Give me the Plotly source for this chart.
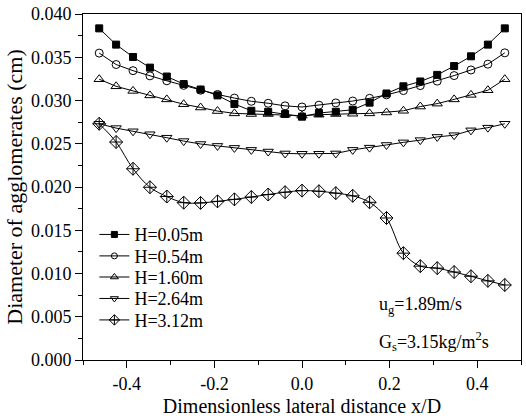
import numpy as np
import plotly.graph_objects as go

x_vals = [round(v, 4) for v in np.linspace(-0.463, 0.463, 25)]

h005 = [0.03834, 0.03646, 0.03503, 0.0338, 0.03277, 0.0319, 0.03127, 0.03059, 0.0296,
        0.02881, 0.0287, 0.02844, 0.02813, 0.02855, 0.0287, 0.02893, 0.02975, 0.03081,
        0.03164, 0.0322, 0.03296, 0.03398, 0.03511, 0.03646, 0.03834]
h054 = [0.03548, 0.03416, 0.03345, 0.03285, 0.03228, 0.03175, 0.03119, 0.0307, 0.03028,
        0.02991, 0.02968, 0.02938, 0.02925, 0.02946, 0.02972, 0.02994, 0.03025, 0.03065,
        0.03115, 0.03172, 0.03224, 0.03288, 0.03353, 0.0342, 0.03551]
h160 = [0.03246, 0.03164, 0.03111, 0.03059, 0.03013, 0.02957, 0.02919, 0.02878, 0.02851,
        0.02844, 0.02844, 0.02836, 0.02825, 0.02836, 0.02844, 0.02847, 0.02851, 0.02862,
        0.02881, 0.0293, 0.02964, 0.03013, 0.03065, 0.03119, 0.03246]
h264 = [0.02731, 0.02681, 0.02644, 0.0261, 0.0257, 0.02531, 0.02497, 0.02475, 0.02452,
        0.02429, 0.0241, 0.02388, 0.02384, 0.02384, 0.02388, 0.02429, 0.02455, 0.02486,
        0.02516, 0.02542, 0.02579, 0.02599, 0.02655, 0.02686, 0.02731]
h312 = [0.02731, 0.0252, 0.02211, 0.01997, 0.0189, 0.01819, 0.01816, 0.01834, 0.01857,
        0.01884, 0.01913, 0.0194, 0.01958, 0.01951, 0.01929, 0.01898, 0.01823, 0.01642,
        0.01235, 0.01085, 0.01062, 0.01017, 0.00968, 0.00915, 0.00867]

series_names = ["H=0.05m", "H=0.54m", "H=1.60m", "H=2.64m", "H=3.12m"]
series_vals = [h005, h054, h160, h264, h312]
symbols = ["square", "circle-open", "triangle-up-open", "triangle-down-open", "diamond-cross-open"]
sizes = [7, 8, 9, 9, 10]
legend_sizes = [6, 6, 7, 7, 8]
shapes = ["linear", "linear", "linear", "linear", "spline"]

y_ticks = [0.0, 0.005, 0.010, 0.015, 0.020, 0.025, 0.030, 0.035, 0.040]
x_ticks = [-0.4, -0.2, 0.0, 0.2, 0.4]

FONT = "Liberation Serif, Times New Roman, serif"

fig = go.Figure()
for name, vals, sym, sz, shp in zip(series_names, series_vals, symbols, sizes, shapes):
    fig.add_trace(go.Scatter(
        x=x_vals, y=vals, name=name, mode="lines+markers", showlegend=False,
        line=dict(color="black", width=1, shape=shp),
        marker=dict(symbol=sym, size=sz, color="black", line=dict(color="black", width=1)),
    ))

legend_ids = ["legend", "legend2", "legend3", "legend4", "legend5"]
legend_rows = [0.362, 0.300, 0.239, 0.177, 0.115]
for name, sym, sz, lid in zip(series_names, symbols, legend_sizes, legend_ids):
    fig.add_trace(go.Scatter(
        x=[None], y=[None], name=name, mode="lines+markers", showlegend=True, legend=lid,
        line=dict(color="black", width=1),
        marker=dict(symbol=sym, size=sz, color="black", line=dict(color="black", width=1)),
    ))

fig.add_annotation(x=0.171, y=0.0063, xref="x", yref="y", xanchor="left", yanchor="middle",
                   text="u<sub>g</sub>=1.89m/s", showarrow=False,
                   font=dict(family=FONT, size=18, color="black"))
fig.add_annotation(x=0.171, y=0.0021, xref="x", yref="y", xanchor="left", yanchor="middle",
                   text="G<sub>s</sub>=3.15kg/m<sup>2</sup>s", showarrow=False,
                   font=dict(family=FONT, size=18, color="black"))

axis_common = dict(showgrid=False, zeroline=False, showline=True, linecolor="black",
                   linewidth=1, mirror=True, ticks="outside", ticklen=7, tickwidth=1,
                   tickcolor="black", tickfont=dict(family=FONT, size=18, color="black"),
                   ticklabeloverflow="allow")

fig.update_xaxes(range=[-0.5, 0.5], tickmode="array", tickvals=x_ticks,
                 ticktext=[f"{v:.1f}" for v in x_ticks],
                 minor=dict(ticks="outside", dtick=0.1, tick0=0, ticklen=4, tickcolor="black"),
                 title=dict(text="Dimensionless lateral distance x/D",
                            font=dict(family=FONT, size=20, color="black"), standoff=6),
                 **axis_common)
fig.update_yaxes(range=[0, 0.0400001], tickmode="array", tickvals=y_ticks,
                 ticktext=[f"{v:.3f}" for v in y_ticks],
                 minor=dict(ticks="outside", dtick=0.0025, tick0=0, ticklen=4, tickcolor="black"),
                 title=dict(text="Diameter of agglomerates (cm)",
                            font=dict(family=FONT, size=22, color="black"), standoff=2),
                 **axis_common)

layout_legends = {}
for lid, ly in zip(legend_ids, legend_rows):
    layout_legends[lid] = dict(x=0.026, y=ly, xanchor="left", yanchor="middle",
                               bgcolor="rgba(0,0,0,0)",
                               font=dict(family=FONT, size=18, color="black"))

fig.update_layout(
    width=526, height=418,
    margin=dict(l=83, r=4, t=6, b=58),
    paper_bgcolor="white", plot_bgcolor="white",
    font=dict(family=FONT, color="black"),
    **layout_legends,
)

fig.write_html("out.html")
